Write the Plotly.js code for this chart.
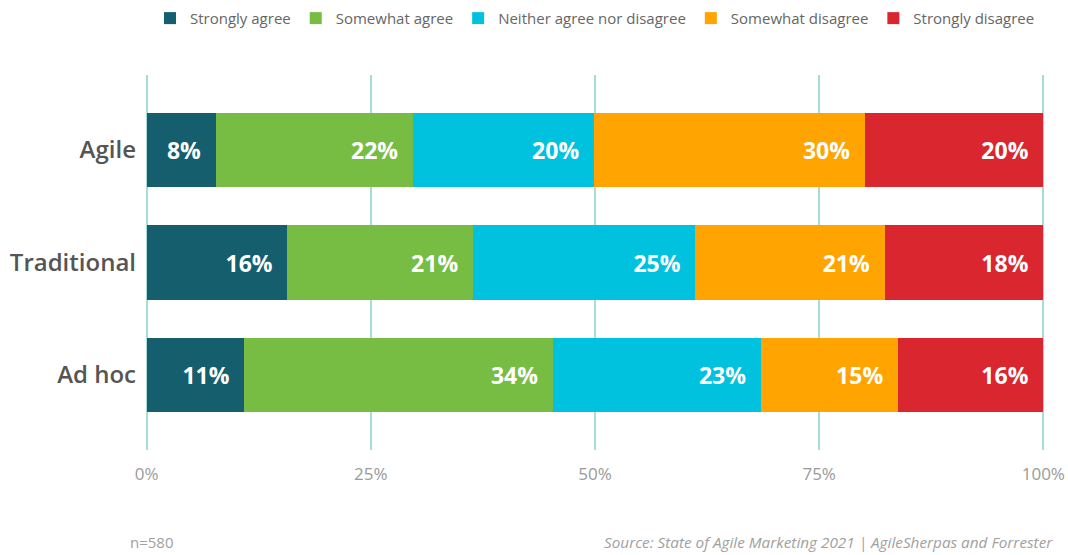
<!DOCTYPE html>
<html>
<head>
<meta charset="utf-8">
<script src="https://cdn.plot.ly/plotly-3.0.1.min.js"></script>
<style>
  body { margin: 0; background: #fff; }
  #graph { width: 1068px; height: 555px; }
</style>
</head>
<body>
<div id="graph"></div>
<script>
var groups = ['Agile', 'Traditional', 'Ad hoc'];
var seriesNames = ['Strongly agree', 'Somewhat agree', 'Neither agree nor disagree', 'Somewhat disagree', 'Strongly disagree'];
var stronglyAgree = [7.7, 15.7, 10.9];
var somewhatAgree = [22.0, 20.7, 34.4];
var neither = [20.2, 24.8, 23.2];
var somewhatDisagree = [30.2, 21.1, 15.3];
var stronglyDisagree = [19.9, 17.7, 16.2];
var tickVals = [0, 25, 50, 75, 100];
var tickText = ['0%', '25%', '50%', '75%', '100%'];
var colors = ['#155e6e', '#77bc43', '#00c2de', '#ffa400', '#d9262f'];

var allValues = [stronglyAgree, somewhatAgree, neither, somewhatDisagree, stronglyDisagree];
var data = [];
for (var i = 0; i < allValues.length; i++) {
    data.push({
        type: 'bar',
        orientation: 'h',
        name: seriesNames[i],
        y: groups,
        x: allValues[i],
        marker: { color: colors[i] },
        texttemplate: '%{x:.0f}%\u00a0\u00a0',
        textposition: 'inside',
        insidetextanchor: 'end',
        textangle: 0,
        insidetextfont: { family: 'Open Sans', size: 23, color: '#ffffff', weight: 'bold' },
        hoverinfo: 'name+x'
    });
}

var layout = {
    barmode: 'stack',
    bargap: 0.34,
    width: 1068,
    height: 555,
    margin: { l: 144, r: 22, t: 75, b: 105, autoexpand: false },
    paper_bgcolor: '#ffffff',
    plot_bgcolor: '#ffffff',
    font: { family: 'Open Sans', color: '#666666' },
    showlegend: true,
    legend: {
        orientation: 'h',
        x: 0.5,
        xanchor: 'center',
        y: 1.195,
        yanchor: 'top',
        font: { size: 15, color: '#666666' },
        traceorder: 'normal',
        itemwidth: 30
    },
    xaxis: {
        range: [-0.3, 100.3],
        tickvals: tickVals,
        ticktext: tickText,
        showgrid: true,
        gridcolor: '#a9dcd2',
        gridwidth: 1.5,
        zeroline: false,
        showline: false,
        ticks: '',
        ticklen: 0,
        ticklabelstandoff: 12,
        tickfont: { size: 17, color: '#9a9a9a' },
        fixedrange: true
    },
    yaxis: {
        type: 'category',
        categoryorder: 'array',
        categoryarray: groups,
        range: [2.667, -0.667],
        showgrid: false,
        zeroline: false,
        showline: false,
        ticks: '',
        ticklabelstandoff: 7,
        tickfont: { size: 24, color: '#555555', weight: 600 },
        fixedrange: true
    },
    annotations: [
        {
            text: 'n=580',
            xref: 'paper', yref: 'paper',
            x: -0.018, y: -0.245,
            xanchor: 'left', yanchor: 'middle',
            showarrow: false,
            font: { size: 15, color: '#a0a0a0' }
        },
        {
            text: '<i>Source: State of Agile Marketing 2021 | AgileSherpas and Forrester</i>',
            xref: 'paper', yref: 'paper',
            x: 1.01, y: -0.245,
            xanchor: 'right', yanchor: 'middle',
            showarrow: false,
            font: { size: 15.3, color: '#a0a0a0' }
        }
    ]
};

Plotly.newPlot('graph', data, layout, { displayModeBar: false, responsive: false });
</script>
</body>
</html>
